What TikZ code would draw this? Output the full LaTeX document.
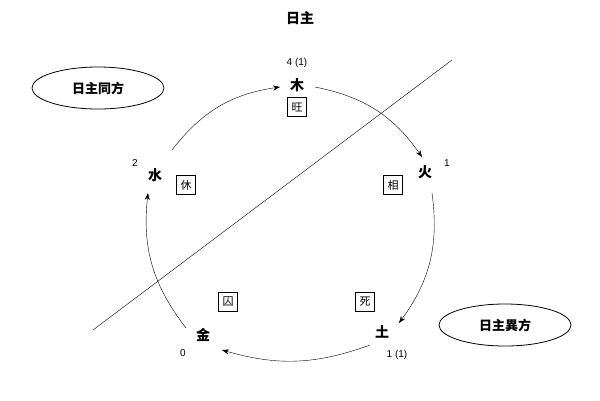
\documentclass[tikz,border=0pt]{standalone}
\usepackage{fontspec}
\newfontfamily\cjk{Noto Sans CJK SC}
\setmainfont{Liberation Sans}
\usetikzlibrary{arrows.meta,shapes.geometric}
\begin{document}
\begin{tikzpicture}[x=1pt,y=-1pt,
  el/.style={draw,thick,ellipse,minimum width=132pt,minimum height=42pt,font=\cjk\bfseries\fontsize{13}{13}\selectfont},
  ch/.style={font=\cjk\bfseries\fontsize{14}{14}\selectfont},
  bx/.style={draw,inner sep=2pt,minimum size=19pt,font=\cjk\fontsize{11}{11}\selectfont},
  nm/.style={font=\fontsize{10}{10}\selectfont},
  arr/.style={-{Stealth[length=7pt,width=5pt]},thin}]
\useasboundingbox (0,0) rectangle (600,400);
\node[ch] (t) at (300,18) {日主};
\node[el] (e1) at (98,88) {日主同方};
\node[el] (e2) at (505,325) {日主異方};
\node[ch] (mu) at (297,85) {木};
\node[nm] at (297,63) {4 (1)};
\node[bx] at (297,107) {旺};
\node[ch] (huo) at (425,172) {火};
\node[nm] at (447,163) {1};
\node[bx] at (393,185) {相};
\node[ch] (tu) at (382,332) {土};
\node[nm] at (397,355) {1 (1)};
\node[bx] at (365,302) {死};
\node[ch] (jin) at (203,335) {金};
\node[nm] at (183,353) {0};
\node[bx] at (228,302) {囚};
\node[ch] (shui) at (155,175) {水};
\node[nm] at (135,163) {2};
\node[bx] at (186,185) {休};
\coordinate (l1) at (93,330); \coordinate (l2) at (452,60);
\draw[thin] (l1) -- (l2);
\draw[arr] (315,87) to[bend left=22] (422,157);
\draw[arr] (432,193) to[bend left=22] (399,323);
\draw[arr] (370,345) to[bend left=18] (222,350);
\draw[arr] (186,328) to[bend left=22] (148,193);
\draw[arr] (172,150) to[bend left=22] (280,87);
\end{tikzpicture}
\end{document}
